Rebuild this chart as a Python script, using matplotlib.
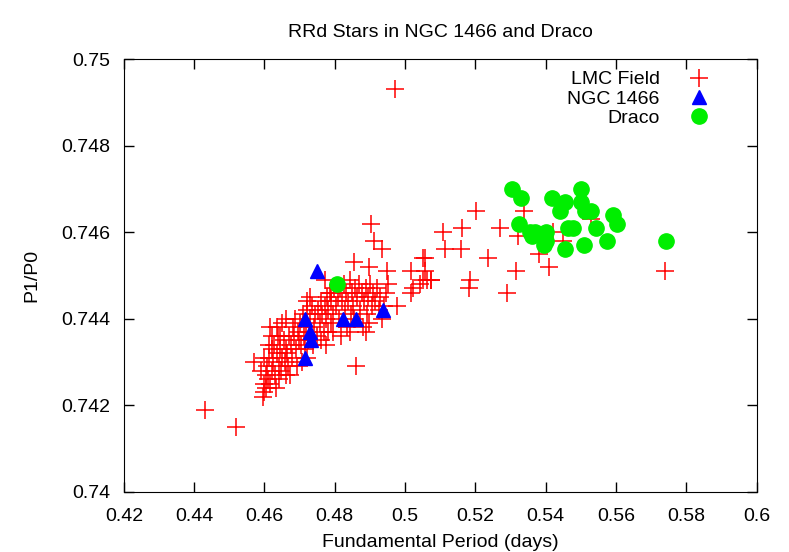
import matplotlib
matplotlib.use('Agg')
from matplotlib import pyplot as plt
from matplotlib.ticker import FuncFormatter

plt.rcParams['font.family'] = ['Liberation Sans', 'DejaVu Sans']

# LMC field RRd stars (period, period ratio)
lmc_p0 = [
    0.4430, 0.4520, 0.4970, 0.4860, 0.4570,
    0.4595, 0.4600, 0.4598, 0.4605, 0.4610, 0.4603, 0.4615, 0.4608, 0.4620, 0.4612,
    0.4625, 0.4630, 0.4635, 0.4628, 0.4640, 0.4645, 0.4638, 0.4650, 0.4655, 0.4648,
    0.4660, 0.4632, 0.4642, 0.4658, 0.4622,
    0.4665, 0.4670, 0.4668, 0.4675, 0.4680, 0.4678, 0.4685, 0.4690, 0.4688, 0.4695,
    0.4662, 0.4672, 0.4692, 0.4698,
    0.4700, 0.4705, 0.4710, 0.4712, 0.4718, 0.4722, 0.4715, 0.4725, 0.4730, 0.4735,
    0.4728, 0.4740, 0.4745, 0.4738, 0.4748, 0.4708, 0.4720,
    0.4752, 0.4758, 0.4760, 0.4765, 0.4770, 0.4772, 0.4778, 0.4775, 0.4782, 0.4788,
    0.4785, 0.4790, 0.4795, 0.4762, 0.4780, 0.4798,
    0.4802, 0.4808, 0.4812, 0.4815, 0.4820, 0.4825, 0.4828, 0.4832, 0.4838, 0.4842,
    0.4845, 0.4848, 0.4852, 0.4858, 0.4835, 0.4818, 0.4855,
    0.4862, 0.4868, 0.4872, 0.4878, 0.4882, 0.4888, 0.4892, 0.4895, 0.4900, 0.4905,
    0.4910, 0.4915, 0.4920, 0.4925, 0.4930, 0.4935, 0.4940, 0.4945, 0.4950, 0.4880,
    0.4898,
    0.4904, 0.4911, 0.4933, 0.4854, 0.4898, 0.4949, 0.5051, 0.5018, 0.5056, 0.5075,
    0.5023, 0.5018, 0.4976, 0.5050, 0.4772, 0.4788,
    0.5203, 0.5163, 0.5108, 0.5113, 0.5158, 0.5056, 0.5061, 0.5075, 0.5042, 0.5184,
    0.5182, 0.5236, 0.5271, 0.5290, 0.5315, 0.5320, 0.5338, 0.5381, 0.5409, 0.5449,
    0.5530, 0.5421, 0.5739,
    0.4590, 0.4600, 0.4612, 0.4622, 0.4636, 0.4650, 0.4662, 0.4617, 0.4645,
    0.4795, 0.4843, 0.4890, 0.4776, 0.4720, 0.4730,
]
lmc_ratio = [
    0.7419, 0.7415, 0.7493, 0.7429, 0.7430,
    0.7422, 0.7423, 0.7425, 0.7424, 0.7426, 0.7427, 0.7425, 0.7429, 0.7428, 0.7431,
    0.7430, 0.7427, 0.7432, 0.7434, 0.7429, 0.7433, 0.7436, 0.7431, 0.7435, 0.7428,
    0.7433, 0.7424, 0.7426, 0.7430, 0.7433,
    0.7432, 0.7436, 0.7429, 0.7434, 0.7438, 0.7431, 0.7436, 0.7433, 0.7440, 0.7437,
    0.7427, 0.7427, 0.7429, 0.7435,
    0.7439, 0.7434, 0.7441, 0.7436, 0.7438, 0.7442, 0.7433, 0.7435, 0.7440, 0.7443,
    0.7437, 0.7438, 0.7441, 0.7434, 0.7436, 0.7430, 0.7431,
    0.7442, 0.7439, 0.7444, 0.7441, 0.7437, 0.7443, 0.7445, 0.7440, 0.7442, 0.7439,
    0.7446, 0.7444, 0.7441, 0.7435, 0.7437, 0.7447,
    0.7443, 0.7445, 0.7440, 0.7447, 0.7444, 0.7448, 0.7442, 0.7446, 0.7444, 0.7449,
    0.7441, 0.7446, 0.7443, 0.7447, 0.7438, 0.7436, 0.7440,
    0.7445, 0.7448, 0.7442, 0.7446, 0.7444, 0.7447, 0.7441, 0.7445, 0.7448, 0.7443,
    0.7446, 0.7444, 0.7447, 0.7442, 0.7445, 0.7440, 0.7443, 0.7446, 0.7448, 0.7438,
    0.7439,
    0.7462, 0.7458, 0.7456, 0.7453, 0.7452, 0.7451, 0.7454, 0.7451, 0.7451, 0.7449,
    0.7447, 0.7446, 0.7443, 0.7449, 0.7449, 0.7446,
    0.7465, 0.7461, 0.7460, 0.7456, 0.7456, 0.7454, 0.7449, 0.7449, 0.7448, 0.7449,
    0.7447, 0.7454, 0.7461, 0.7446, 0.7451, 0.7459, 0.7465, 0.7455, 0.7452, 0.7458,
    0.7463, 0.7460, 0.7451,
    0.7428, 0.7431, 0.7434, 0.7436, 0.7438, 0.7439, 0.7440, 0.7438, 0.7436,
    0.7437, 0.7437, 0.7437, 0.7434, 0.7444, 0.7445,
]

# NGC 1466
ngc_p0 = [0.4750, 0.4715, 0.4824, 0.4859, 0.4937, 0.4729, 0.4732, 0.4716]
ngc_ratio = [0.7451, 0.7440, 0.7440, 0.7440, 0.7442, 0.7437, 0.7435, 0.7431]

# Draco
draco_p0 = [0.4805, 0.5305, 0.5329, 0.5419, 0.5456, 0.5500, 0.5440, 0.5500, 0.5513,
            0.5528, 0.5592, 0.5603, 0.5323, 0.5355, 0.5369, 0.5360, 0.5400, 0.5402,
            0.5395, 0.5463, 0.5478, 0.5544, 0.5456, 0.5508, 0.5575, 0.5741]
draco_ratio = [0.7448, 0.7470, 0.7468, 0.7468, 0.7467, 0.7470, 0.7465, 0.7467, 0.7465,
               0.7465, 0.7464, 0.7462, 0.7462, 0.7460, 0.7460, 0.7459, 0.7460, 0.7458,
               0.7457, 0.7461, 0.7461, 0.7461, 0.7456, 0.7457, 0.7458, 0.7458]

fig = plt.figure(figsize=(7.89, 5.52), dpi=100)
ax = fig.add_axes([0.157, 0.109, 0.802, 0.784])

ax.plot(lmc_p0, lmc_ratio, '+', color='red', markersize=13, markeredgewidth=1.1,
        linestyle='none', label='LMC Field')
ax.plot(ngc_p0, ngc_ratio, '^', color='blue', markersize=10, linestyle='none',
        label='NGC 1466')
ax.plot(draco_p0, draco_ratio, 'o', color='#00ee00', markersize=11, linestyle='none',
        label='Draco')

ax.set_xlim(0.42, 0.6)
ax.set_ylim(0.74, 0.75)
ax.set_xticks([0.42 + 0.02 * i for i in range(10)])
ax.set_yticks([0.74 + 0.002 * i for i in range(6)])
fmt = FuncFormatter(lambda v, pos: '%g' % round(v, 4))
ax.xaxis.set_major_formatter(fmt)
ax.yaxis.set_major_formatter(fmt)
ax.tick_params(direction='in', top=True, right=True, length=7, width=1,
               labelsize=14)
ax.tick_params(axis='x', pad=12)
ax.tick_params(axis='y', pad=10)

ax.set_title('RRd Stars in NGC 1466 and Draco', fontsize=14, pad=16)
ax.set_xlabel('Fundamental Period (days)', fontsize=14, labelpad=6)
ax.set_ylabel('P1/P0', fontsize=14, labelpad=15)

ax.legend(loc='upper right', bbox_to_anchor=(0.945, 1.0), frameon=False,
          markerfirst=False, fontsize=14, handletextpad=1.4, labelspacing=0.08,
          borderaxespad=0.2, handlelength=1.2)

fig.savefig('out.png', dpi=100)
